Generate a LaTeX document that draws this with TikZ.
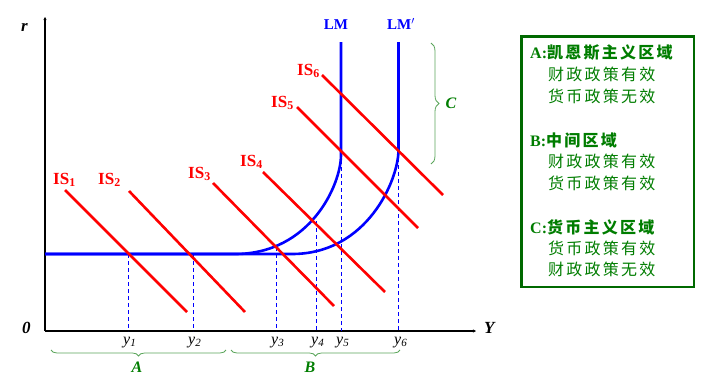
\documentclass[tikz,border=0pt]{standalone}
\usepackage{fontspec}
\setmainfont{Liberation Serif}
\newfontfamily\cjk[LetterSpace=14]{Noto Sans CJK SC}
\usetikzlibrary{arrows.meta}
\usetikzlibrary{decorations.pathreplacing}
\usetikzlibrary{positioning}
\definecolor{isred}{RGB}{255,0,0}
\definecolor{lmblue}{RGB}{0,0,255}
\definecolor{boxgreen}{RGB}{0,105,0}
\definecolor{txtgreen}{RGB}{0,125,0}
\definecolor{bracegreen}{RGB}{90,165,90}
\tikzset{axis/.style = {black, line width=1.3pt, -{Stealth[length=3pt,width=3pt]}},
         isline/.style = {isred, line width=2.6pt},
         lmline/.style = {lmblue, line width=2.6pt},
         drop/.style = {lmblue, line width=1pt, dash pattern=on 4pt off 3pt},
         islabel/.style = {isred, anchor=base west, inner sep=0pt,
                           font=\fontsize{17}{17}\selectfont\bfseries},
         lmlabel/.style = {lmblue, anchor=base, inner sep=0pt,
                           font=\fontsize{15}{15}\selectfont\bfseries},
         axislabel/.style = {anchor=base west, inner sep=0pt,
                             font=\fontsize{17}{17}\selectfont\bfseries\itshape},
         ylabel/.style = {anchor=base west, inner sep=0pt,
                          font=\fontsize{16}{16}\selectfont\itshape},
         zone/.style = {bracegreen, line width=0.8pt, decorate},
         zonelabel/.style = {txtgreen, inner sep=0pt,
                             font=\fontsize{16}{16}\selectfont\bfseries\itshape},
         legendbox/.style = {draw=boxgreen, line width=2.5pt, inner sep=0pt,
                             minimum width=172.5pt, minimum height=250.5pt},
         head/.style = {txtgreen, anchor=west, inner sep=0pt,
                        font=\fontsize{16}{16}\selectfont\bfseries},
         body/.style = {txtgreen, anchor=west, inner sep=0pt,
                        font=\fontsize{16}{16}\selectfont\cjk}}
\newcommand{\ysub}[1]{y\raisebox{-2pt}{\fontsize{11}{11}\selectfont #1}}

\begin{document}
\begin{tikzpicture}[x=1pt, y=-1pt]
			\useasboundingbox (0,0) rectangle (705,380);
			% axes
			\node (o) at (45,331) {};
			\node (ytop) at (45,17) {};
			\node (xend) at (476,331) {};
			\draw [axis] (o.center) to (ytop.center);
			\draw [axis] (o.center) to (xend.center);
			\node [axislabel] (rlab) at (21,31) {r};
			\node [axislabel] (olab) at (22,333) {0};
			\node [axislabel] (Ylab) at (484,333) {Y};
			% equilibrium points
			\node (e1) at (128,254) {};
			\node (e2) at (193,254) {};
			\node (e3) at (276,247) {};
			\node (e4) at (316,221) {};
			\node (e5) at (341,153) {};
			\node (e6) at (398.5,151) {};
			\draw [drop] (e1.center) to (e1.center |- o.center);
			\draw [drop] (e2.center) to (e2.center |- o.center);
			\draw [drop] (e3.center) to (e3.center |- o.center);
			\draw [drop] (e4.center) to (e4.center |- o.center);
			\draw [drop] (e5.center) to (e5.center |- o.center);
			\draw [drop] (e6.center) to (e6.center |- o.center);
			\node [ylabel] (y1) at (123,344) {\ysub{1}};
			\node [ylabel] (y2) at (188,344) {\ysub{2}};
			\node [ylabel] (y3) at (271,344) {\ysub{3}};
			\node [ylabel] (y4) at (311,344) {\ysub{4}};
			\node [ylabel] (y5) at (336,344) {\ysub{5}};
			\node [ylabel] (y6) at (394,344) {\ysub{6}};
			% LM curves
			\node (lm0) at (45,254) {};
			\node (lm1) at (235,254) {};
			\node (lm2) at (341,155) {};
			\node (lm3) at (341,42) {};
			\node (lmp1) at (292,254) {};
			\node (lmp2) at (398.5,150) {};
			\node (lmp3) at (398.5,42) {};
			\draw [lmline] (lm0.center) to (lm1.center)
			      .. controls (310,254) and (341,185) .. (lm2.center) to (lm3.center);
			\draw [lmline] (lm0.center) to (lmp1.center)
			      .. controls (367,254) and (398.5,180) .. (lmp2.center) to (lmp3.center);
			\node [lmlabel] (lmtext) at (336,30) {LM};
			\node [lmlabel, anchor=base west] (lmptext) at (387,30) {LM$'$};
			% IS curves
			\node (a1) at (65,190) {};
			\node (b1) at (187,312) {};
			\node (a2) at (129,191) {};
			\node (b2) at (245,312) {};
			\node (a3) at (213,183) {};
			\node (b3) at (334,306) {};
			\node (a4) at (263,172) {};
			\node (b4) at (385,292) {};
			\node (a5) at (297,107) {};
			\node (b5) at (418,228) {};
			\node (a6) at (322,75) {};
			\node (b6) at (443,195) {};
			\draw [isline] (a1.center) to (b1.center);
			\draw [isline] (a2.center) to (b2.center);
			\draw [isline] (a3.center) to (b3.center);
			\draw [isline] (a4.center) to (b4.center);
			\draw [isline] (a5.center) to (b5.center);
			\draw [isline] (a6.center) to (b6.center);
			\node [islabel] (is1) at (53,184) {IS\textsubscript{1}};
			\node [islabel] (is2) at (98,184) {IS\textsubscript{2}};
			\node [islabel] (is3) at (188,178) {IS\textsubscript{3}};
			\node [islabel] (is4) at (240,166) {IS\textsubscript{4}};
			\node [islabel] (is5) at (271,107) {IS\textsubscript{5}};
			\node [islabel] (is6) at (297,75) {IS\textsubscript{6}};
			% zones
			\node (za0) at (51,350) {};
			\node (za1) at (226,350) {};
			\node (zb0) at (231,350) {};
			\node (zb1) at (400,350) {};
			\node (zc0) at (431,43) {};
			\node (zc1) at (431,164) {};
			\draw [zone, decoration={brace, amplitude=6pt, mirror}] (za0.center) to (za1.center);
			\draw [zone, decoration={brace, amplitude=6pt, mirror}] (zb0.center) to (zb1.center);
			\draw [zone, decoration={brace, amplitude=8pt}] (zc0.center) to (zc1.center);
			\node [zonelabel] (Alab) at (137,367) {A};
			\node [zonelabel] (Blab) at (310,367) {B};
			\node [zonelabel] (Clab) at (451,103) {C};
			% legend
			\node [legendbox] (legend) at (607.5,161.5) {};
			\node [head] (ha) at (530,53) {A:{\cjk 凯恩斯主义区域}};
			\node [body] (ha1) at (548,74) {财政政策有效};
			\node [body] (ha2) at (548,96) {货币政策无效};
			\node [head] (hb) at (530,140) {B:{\cjk 中间区域}};
			\node [body] (hb1) at (548,161) {财政政策有效};
			\node [body] (hb2) at (548,183) {货币政策有效};
			\node [head] (hc) at (530,227) {C:{\cjk 货币主义区域}};
			\node [body] (hc1) at (548,248) {货币政策有效};
			\node [body] (hc2) at (548,269) {财政政策无效};
\end{tikzpicture}
\end{document}
